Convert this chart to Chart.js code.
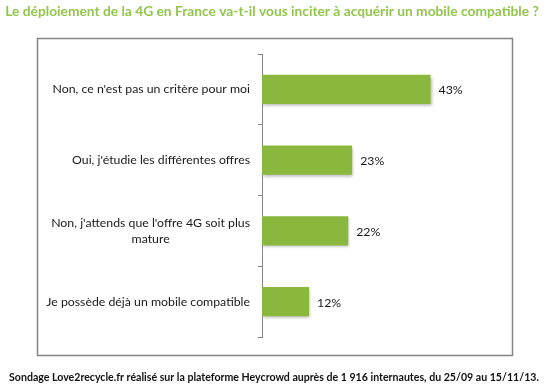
<!DOCTYPE html>
<html>
<head>
<meta charset="utf-8">
<script src="https://cdn.jsdelivr.net/npm/chart.js@4.4.0/dist/chart.umd.min.js"></script>
<style>
  html, body { margin: 0; padding: 0; background: #fff; }
  #wrap { width: 546px; height: 390px; }
</style>
</head>
<body>
<div id="wrap"><canvas id="sondage" width="546" height="390"></canvas></div>
<script>
const titleText = 'Le déploiement de la 4G en France va-t-il vous inciter à acquérir un mobile compatible ?';
const noteText = 'Sondage Love2recycle.fr réalisé sur la plateforme Heycrowd auprès de 1 916 internautes, du 25/09 au 15/11/13.';
const answers = [
    ['Non, ce n\'est pas un critère pour moi'],
    ['Oui, j\'étudie les différentes offres'],
    ['Non, j\'attends que l\'offre 4G soit plus', 'mature'],
    ['Je possède déjà un mobile compatible']
];
const percents = [43, 23, 22, 12];
const axisMax = 50;

const family = 'Lato, "Open Sans", sans-serif';
const labelFont = '12.3px ' + family;

// gradient for the bars, lighter on top like the excel bevel
const barFill = (context) => {
    const bar = context.chart.getDatasetMeta(0).data[context.dataIndex];
    if (!bar || bar.y === undefined) return '#8ab83e';
    const half = bar.height / 2;
    const g = context.chart.ctx.createLinearGradient(0, bar.y - half, 0, bar.y + half);
    g.addColorStop(0, '#a4cd5e');
    g.addColorStop(0.5, '#8fbc42');
    g.addColorStop(1, '#769f2e');
    return g;
};

// pick a bold font size so the line is about as wide as in the picture
const fitText = (ctx, text, target, x, y) => {
    ctx.font = 'bold 20px ' + family;
    const size = 20 * target / ctx.measureText(text).width;
    ctx.font = 'bold ' + size.toFixed(2) + 'px ' + family;
    ctx.fillText(text, x, y);
};

const framePlugin = {
    id: 'frame',
    beforeDraw(chart) {
        const ctx = chart.ctx;
        ctx.save();
        ctx.strokeStyle = '#858585';
        ctx.lineWidth = 1.5;
        ctx.strokeRect(37.5, 38.5, 475, 317);

        ctx.textAlign = 'center';
        ctx.textBaseline = 'middle';
        ctx.fillStyle = '#92c64c';
        fitText(ctx, titleText, 534, 272, 12);

        ctx.fillStyle = '#111';
        fitText(ctx, noteText, 530, 274, 378);
        ctx.restore();
    },
    beforeDatasetsDraw(chart) {
        const ctx = chart.ctx;
        ctx.save();
        ctx.shadowColor = 'rgba(0,0,0,0.28)';
        ctx.shadowBlur = 3;
        ctx.shadowOffsetY = 2;
        ctx.shadowOffsetX = 1;
    },
    afterDatasetsDraw(chart) {
        const ctx = chart.ctx;
        ctx.restore();
        ctx.save();
        ctx.font = labelFont;
        ctx.fillStyle = '#1a1a1a';
        ctx.textBaseline = 'middle';
        ctx.textAlign = 'left';
        chart.getDatasetMeta(0).data.forEach((bar, i) => {
            ctx.fillText(percents[i] + '%', bar.x + 8, bar.y + 1);
        });

        // category labels: block right aligned, lines centred inside the block
        const yScale = chart.scales.y;
        const rightEdge = yScale.right - 12;
        ctx.textAlign = 'center';
        answers.forEach((lines, i) => {
            const widest = Math.max(...lines.map(l => ctx.measureText(l).width));
            const cx = rightEdge - widest / 2;
            const cy = yScale.getPixelForValue(i);
            const lh = 16;
            lines.forEach((l, k) => {
                ctx.fillText(l, cx, cy + (k - (lines.length - 1) / 2) * lh);
            });
        });
        ctx.restore();
    }
};

const ctx = document.getElementById('sondage').getContext('2d');
const sondage = new Chart(ctx, {
    type: 'bar',
    data: {
        labels: answers,
        datasets: [{
            data: percents,
            backgroundColor: barFill,
            borderWidth: 0,
            categoryPercentage: 1,
            barPercentage: 0.41
        }]
    },
    options: {
        indexAxis: 'y',
        responsive: false,
        animation: false,
        layout: { padding: { left: 0, right: 88, top: 54, bottom: 53 } },
        scales: {
            x: {
                display: false,
                min: 0,
                max: axisMax
            },
            y: {
                afterFit: (scale) => { scale.width = 262; },
                border: { display: true, color: '#868686', width: 1 },
                grid: {
                    drawOnChartArea: false,
                    drawTicks: true,
                    tickLength: 4,
                    color: '#868686',
                    offset: true
                },
                ticks: { display: false }
            }
        },
        plugins: {
            legend: { display: false },
            tooltip: { enabled: false },
            title: { display: false },
            subtitle: { display: false }
        }
    },
    plugins: [framePlugin]
});
</script>
</body>
</html>
